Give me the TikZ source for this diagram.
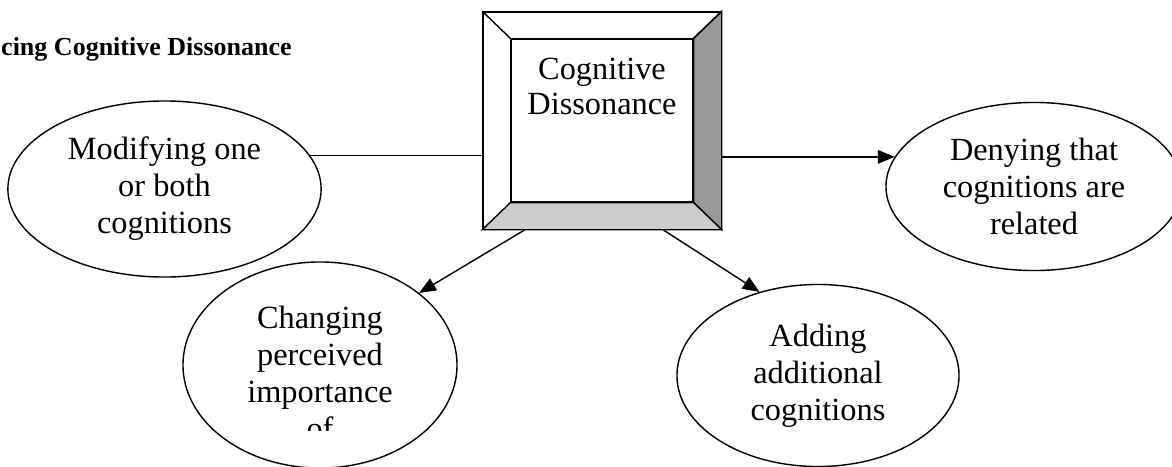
\documentclass[tikz,border=0pt]{standalone}
\usepackage{fontspec}
\setmainfont{Liberation Serif}
\usetikzlibrary{arrows.meta,calc,shapes.geometric}
\definecolor{bevel dark}{HTML}{999999}
\definecolor{bevel light}{HTML}{CCCCCC}
\tikzset{
    dissonance diagram/.style = {x=0.025cm, y=-0.025cm,
                                 >={Triangle[length=4.2mm, width=3.4mm]}},
    line/.style        = {line width=1pt},
    idea/.style        = {draw, line width=1pt, ellipse, inner sep=0pt,
                          align=center,
                          font=\fontsize{23pt}{26.3pt}\selectfont},
    ideatext/.style    = {inner sep=0pt, align=center,
                          font=\fontsize{23pt}{26.3pt}\selectfont},
    frame/.style       = {draw, line width=1pt, fill=white,
                          minimum width=5.95cm, minimum height=5.425cm},
    face/.style        = {draw, line width=1pt, fill=white,
                          minimum width=4.55cm, minimum height=4.075cm},
    facetext/.style    = {inner sep=0pt, align=center,
                          font=\fontsize{23pt}{24.2pt}\selectfont},
    heading/.style     = {inner sep=0pt,
                          font=\bfseries\fontsize{18.5pt}{20pt}\selectfont}
}

\begin{document}
\begin{tikzpicture}[dissonance diagram]
\useasboundingbox (0,0) rectangle (1172,467);

% Heading, cut at the left edge.
\node[heading, anchor=base east] (heading) at (292,55)
    {cing Cognitive Dissonance};

% Bevelled box in the middle.
\node[frame] (box) at (602,120.5) {};
\node[face] (face) at (602,120.5) {};
\filldraw[line, fill=bevel dark] (box.north east) -- (box.south east)
    -- (face.south east) -- (face.north east) -- cycle;
\filldraw[line, fill=bevel light] (box.south west) -- (box.south east)
    -- (face.south east) -- (face.south west) -- cycle;
\draw[line] (box.north west) -- (face.north west);
\draw[line] (box.north east) -- (face.north east);
\node[facetext, anchor=base] (boxtext) at (602,114)
    {Cognitive\\Dissonance};

% The four ways out.
\node[idea, minimum width=7.83cm, minimum height=4.4cm] (modify)
    at (164.5,189) {Modifying one\\or both\\cognitions};
\node[idea, minimum width=7.4cm, minimum height=4.2cm] (deny)
    at (1034,186.5) {Denying that\\cognitions are\\related};
\node[idea, minimum width=6.85cm, minimum height=5.15cm] (change)
    at (320,365) {};
\begin{scope}
    \clip (183,250) rectangle (457,430);
    \node[ideatext] (changetext) at (320,372.5)
        {Changing\\perceived\\importance\\of};
\end{scope}
\node[idea, minimum width=7.05cm, minimum height=4.55cm] (add)
    at (818,375.5) {Adding\\additional\\cognitions};

% Connectors.
\draw[line] (modify.13) -- (modify.13 -| box.west);
\draw[line, ->] (box.east |- deny.168) -- (deny.168);
\draw[line, ->] ($(box.south)+(-77,0)$) -- (change.36);
\draw[line, ->] ($(box.south)+(61,0)$) -- (add.125);

\end{tikzpicture}
\end{document}
